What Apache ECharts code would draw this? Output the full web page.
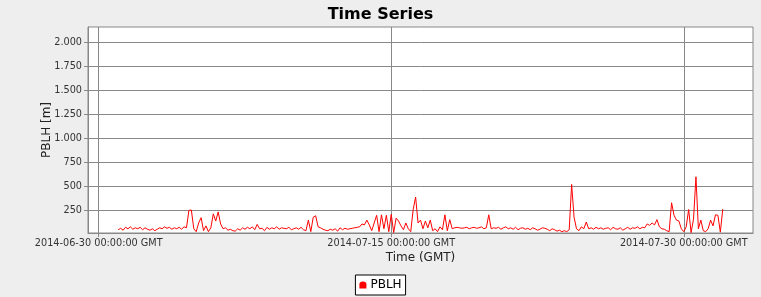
<!DOCTYPE html>
<html>
<head>
<meta charset="utf-8">
<script src="https://cdn.jsdelivr.net/npm/echarts@6/dist/echarts.min.js"></script>
<style>
html,body{margin:0;padding:0;background:#EEEEEE;}
#chart{width:761px;height:297px;}
</style>
</head>
<body>
<div id="chart"></div>
<script>
// Data: PBLH [m], 3-hourly from 2014-07-01 00:00 GMT
const seriesName = 'PBLH';
const startDate = '2014-07-01T00:00:00Z';
const stepHours = 3;
const pblh = [
  50,65,45,75,60,80,55,70,
  60,75,50,70,55,45,60,40,
  55,70,60,80,65,75,55,70,
  60,75,55,80,70,250,255,60,
  30,120,175,40,90,30,70,215,
  140,235,110,60,70,45,55,40,
  35,60,45,70,55,75,60,80,
  50,105,60,65,40,75,55,70,
  60,80,55,70,65,60,75,50,
  60,70,55,75,50,40,150,30,
  180,195,80,70,55,45,40,55,
  45,60,35,70,50,65,55,60,
  65,70,75,80,110,100,150,100,
  40,120,200,30,205,60,200,30,
  210,20,170,140,90,50,120,60,
  30,260,390,120,150,60,140,70,
  150,40,60,30,80,50,205,40,
  155,60,70,75,70,65,70,75,
  60,70,75,65,70,80,60,70,
  205,60,70,65,75,55,70,80,
  60,70,55,75,50,65,70,55,
  65,50,70,60,45,55,70,65,
  55,40,60,50,35,45,30,40,
  30,50,520,180,60,40,80,60,
  130,60,70,55,75,60,70,55,
  65,70,50,75,60,55,70,45,
  60,75,55,70,65,80,60,75,
  70,110,95,120,100,155,80,60,
  55,40,30,330,200,150,140,60,
  30,80,260,20,160,600,60,150,
  40,30,60,150,90,205,200,25,
  265
];
const xTickDates = ['2014-06-30T00:00:00Z','2014-07-15T00:00:00Z','2014-07-30T00:00:00Z'];
const xRange = ['2014-06-29T10:48:00Z','2014-08-02T13:12:00Z'];
const yTicks = [250,500,750,1000,1250,1500,1750,2000];
const yRange = [16,2156];

const t0 = Date.parse(startDate);
const data = pblh.map((v,i)=>[t0 + i*stepHours*3600000, v]);
const xTicks = xTickDates.map(d=>Date.parse(d));

function pad(n){return (n<10?'0':'')+n;}
function fmtDate(ms){
  const d = new Date(ms);
  return d.getUTCFullYear()+'-'+pad(d.getUTCMonth()+1)+'-'+pad(d.getUTCDate())+' '+
    pad(d.getUTCHours())+':'+pad(d.getUTCMinutes())+':'+pad(d.getUTCSeconds())+' GMT';
}
function fmtNum(v){
  return String(Math.round(v)).replace(/\B(?=(\d{3})+(?!\d))/g,'.');
}

const chart = echarts.init(document.getElementById('chart'), null, {renderer:'canvas'});
const font = 'DejaVu Sans';
chart.setOption({
  animation:false,
  backgroundColor:'#EEEEEE',
  textStyle:{fontFamily:font},
  title:{
    text:'Time Series', left:'center', top:2,
    textStyle:{fontFamily:font, fontSize:16, fontWeight:'bold', color:'#000'}
  },
  legend:{
    data:[{name:seriesName, icon:'path://M0,10 L0,4 Q0,0 5,0 Q10,0 10,4 L10,10 Z'}],
    bottom:2, left:'center',
    itemWidth:7, itemHeight:8, itemGap:4,
    padding:[4,4,4,4],
    borderColor:'#000', borderWidth:1, backgroundColor:'#fff',
    textStyle:{fontFamily:font, fontSize:12, color:'#000', padding:[0,0,0,-1]}
  },
  grid:{
    left:88, right:8, top:27, bottom:64,
    show:true, backgroundColor:'#fff', borderColor:'#888', borderWidth:1
  },
  xAxis:{
    type:'value', min:Date.parse(xRange[0]), max:Date.parse(xRange[1]),
    name:'Time (GMT)', nameLocation:'middle', nameGap:19, nameMoveOverlap:false,
    nameTextStyle:{fontFamily:font, fontSize:12, color:'#222'},
    axisLine:{show:true, lineStyle:{color:'#888'}},
    axisTick:{show:true, customValues:xTicks, length:4, inside:false, lineStyle:{color:'#888'}},
    axisLabel:{customValues:xTicks, formatter:fmtDate, margin:5, fontFamily:font, fontSize:9.7, color:'#333', hideOverlap:false, showMinLabel:true, showMaxLabel:true},
    splitLine:{show:true, lineStyle:{color:'#888', width:1}}
  },
  yAxis:{
    type:'value', min:yRange[0], max:yRange[1],
    name:'PBLH [m]', nameLocation:'middle', nameGap:35, nameMoveOverlap:false,
    nameTextStyle:{fontFamily:font, fontSize:12, color:'#222'},
    axisLine:{show:true, lineStyle:{color:'#888'}},
    axisTick:{show:true, customValues:yTicks, length:4, lineStyle:{color:'#888'}},
    axisLabel:{customValues:yTicks, formatter:fmtNum, margin:6, fontFamily:font, fontSize:9.7, color:'#333'},
    splitLine:{show:true, lineStyle:{color:'#888', width:1}}
  },
  series:[{
    name:seriesName, type:'line', data:data, showSymbol:false, symbol:'none',
    lineStyle:{color:'#FF0000', width:1}, itemStyle:{color:'#FF0000'}
  }]
});
</script>
</body>
</html>
